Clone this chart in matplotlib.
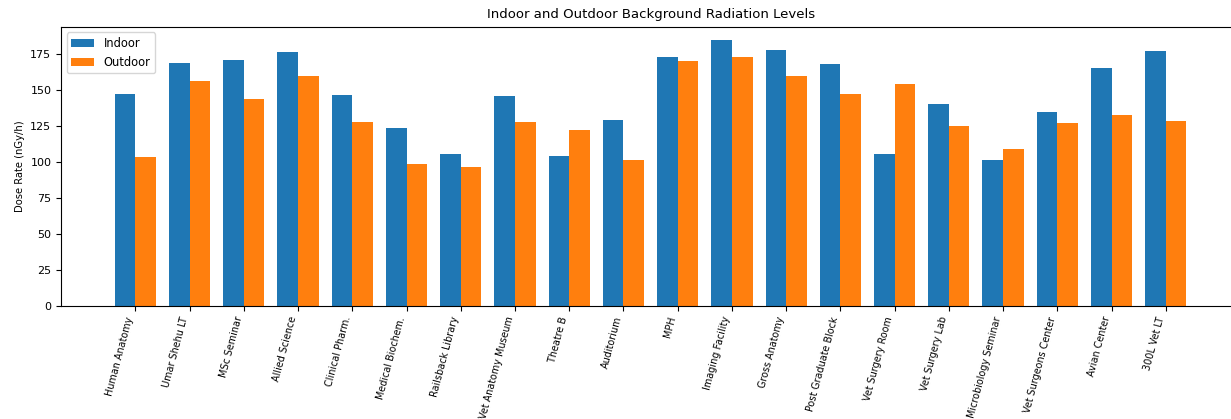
#!/usr/bin/env python3
"""
Grouped bar chart of indoor vs outdoor background dose rates per site.
"""

import numpy as np
import matplotlib
matplotlib.use('Agg')
import matplotlib.pyplot as plt

sites = [
    "Human Anatomy", "Umar Shehu LT", "MSc Seminar", "Allied Science",
    "Clinical Pharm.", "Medical Biochem.", "Railsback Library",
    "Vet Anatomy Museum", "Theatre B", "Auditorium", "MPH",
    "Imaging Facility", "Gross Anatomy", "Post Graduate Block",
    "Vet Surgery Room", "Vet Surgery Lab", "Microbiology Seminar",
    "Vet Surgeons Center", "Avian Center", "300L Vet LT",
]
indoor = [147.0, 168.5, 171.0, 176.1, 146.2, 123.5, 105.1, 146.0, 104.0, 128.8,
          173.1, 184.7, 178.0, 168.0, 105.1, 140.2, 101.2, 134.6, 165.0, 177.1]
outdoor = [103.7, 156.2, 143.4, 159.9, 127.4, 98.4, 96.5, 127.4, 122.3, 101.2,
           170.3, 173.1, 159.4, 146.9, 154.1, 124.6, 108.6, 126.9, 132.3, 128.1]


def main():
    x = np.arange(len(sites))
    width = 0.38

    fig = plt.figure(figsize=(12.31, 4.19), dpi=100)
    ax = fig.add_axes([0.0496, 0.2704, 0.9578, 0.6659])

    ax.bar(x - width / 2, indoor, width, label='Indoor', color='#1f77b4')
    ax.bar(x + width / 2, outdoor, width, label='Outdoor', color='#ff7f0e')

    ax.set_xlim(-1.37, len(sites) + 0.37)
    ax.set_ylim(0, max(indoor + outdoor) * 1.05)
    ax.set_yticks(range(0, 176, 25))
    ax.tick_params(axis='y', labelsize=8.0)
    ax.set_xticks(x)
    ax.set_xticklabels(sites, rotation=75, ha='right', fontsize=6.9)

    ax.set_ylabel('Dose Rate (nGy/h)', fontsize=7.2)
    ax.set_title('Indoor and Outdoor Background Radiation Levels', fontsize=9.5)
    ax.legend(loc='upper left', fontsize=8.3)

    for s in ax.spines.values():
        s.set_linewidth(0.8)

    fig.savefig('out.png', dpi=100)
    plt.close(fig)


if __name__ == "__main__":
    main()
